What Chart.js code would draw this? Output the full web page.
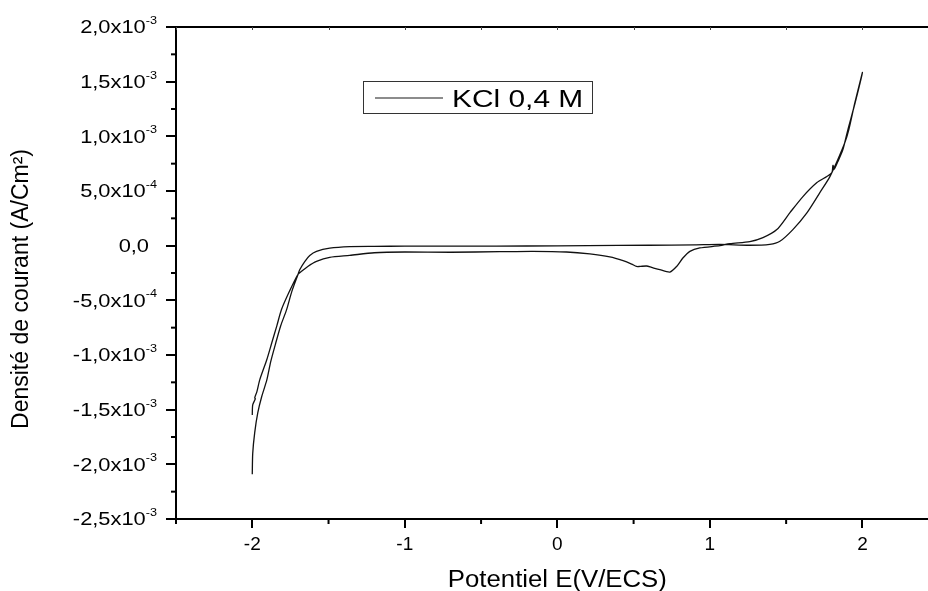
<!DOCTYPE html>
<html>
<head>
<meta charset="utf-8">
<script src="https://cdn.jsdelivr.net/npm/chart.js@4.4.1/dist/chart.umd.min.js"></script>
<style>
  html, body { margin: 0; padding: 0; background: #fff; overflow: hidden; }
  canvas { display: block; }
</style>
</head>
<body>
<canvas id="c" width="928" height="591"></canvas>
<script>
// ---- Data ----
// Anodic sweep: from -2 V up to +2 V
const forwardE = [-2.00, -1.997, -1.984, -1.964, -1.938, -1.905, -1.879, -1.846, -1.813, -1.776,
  -1.741, -1.702, -1.689, -1.656, -1.623, -1.579, -1.492, -1.361, -1.2, -1.0,
  -0.6, -0.2, 0.2, 0.6, 0.9, 1.066, 1.26, 1.393, 1.459, 1.544,
  1.636, 1.721, 1.787, 1.839, 1.885, 1.911, 1.951, 2.0];
const forwardI = [-2.09e-3, -1.90e-3, -1.71e-3, -1.53e-3, -1.38e-3, -1.23e-3, -1.06e-3, -0.89e-3, -0.73e-3, -0.59e-3,
  -0.42e-3, -0.27e-3, -0.22e-3, -0.145e-3, -0.09e-3, -0.052e-3, -0.022e-3, -0.008e-3, -0.006e-3, -0.005e-3,
  -0.004e-3, -0.003e-3, 0.0, 0.004e-3, 0.008e-3, 0.012e-3, 0.004e-3, 0.012e-3, 0.04e-3, 0.147e-3,
  0.30e-3, 0.485e-3, 0.632e-3, 0.788e-3, 0.943e-3, 1.062e-3, 1.31e-3, 1.584e-3];
// Cathodic sweep: from +2 V back to -2 V
const reverseE = [1.951, 1.905, 1.872, 1.839, 1.815, 1.807, 1.800, 1.767, 1.702, 1.610,
  1.525, 1.439, 1.348, 1.262, 1.131, 1.066, 0.934, 0.869, 0.823, 0.782,
  0.738, 0.672, 0.618, 0.585, 0.541, 0.519, 0.487, 0.431, 0.344, 0.213,
  0.060, -0.161, -0.377, -0.7, -1.0, -1.2, -1.361, -1.492, -1.579, -1.636,
  -1.677, -1.702, -1.757, -1.809, -1.839, -1.872, -1.905, -1.951, -1.970, -1.984,
  -1.980, -1.997, -2.0];
const reverseI = [1.30e-3, 1.062e-3, 0.879e-3, 0.769e-3, 0.70e-3, 0.735e-3, 0.668e-3, 0.632e-3, 0.577e-3, 0.449e-3,
  0.302e-3, 0.147e-3, 0.073e-3, 0.037e-3, 0.018e-3, 0.0, -0.021e-3, -0.052e-3, -0.113e-3, -0.190e-3,
  -0.241e-3, -0.220e-3, -0.199e-3, -0.186e-3, -0.190e-3, -0.190e-3, -0.168e-3, -0.137e-3, -0.103e-3, -0.076e-3,
  -0.058e-3, -0.052e-3, -0.055e-3, -0.060e-3, -0.058e-3, -0.065e-3, -0.089e-3, -0.107e-3, -0.144e-3, -0.190e-3,
  -0.235e-3, -0.266e-3, -0.42e-3, -0.586e-3, -0.733e-3, -0.888e-3, -1.044e-3, -1.227e-3, -1.337e-3, -1.392e-3,
  -1.40e-3, -1.456e-3, -1.548e-3];

const seriesLabel = 'KCl 0,4 M';

// ---- Ticks ----
const xTickValues = [-2, -1, 0, 1, 2];
const xTickLabels = ['-2', '-1', '0', '1', '2'];
const xMinorTicks = [-2.5, -1.5, -0.5, 0.5, 1.5];
const yTickValues = [2.0e-3, 1.5e-3, 1.0e-3, 5.0e-4, 0, -5.0e-4, -1.0e-3, -1.5e-3, -2.0e-3, -2.5e-3];
const yTickMantissa = ['2,0', '1,5', '1,0', '5,0', '0,0', '-5,0', '-1,0', '-1,5', '-2,0', '-2,5'];
const yTickExponent = ['-3', '-3', '-3', '-4', '', '-4', '-3', '-3', '-3', '-3'];
const yMinorTicks = [1.75e-3, 1.25e-3, 0.75e-3, 0.25e-3, -0.25e-3, -0.75e-3, -1.25e-3, -1.75e-3, -2.25e-3];

const xTitle = 'Potentiel E(V/ECS)';
const yTitle = 'Densité de courant (A/Cm²)';

const FONT = "'Liberation Sans', Arial, Helvetica, sans-serif";

const points = forwardE.map((e, i) => ({ x: e, y: forwardI[i] }))
  .concat(reverseE.map((e, i) => ({ x: e, y: reverseI[i] })));

function sText(ctx, str, x, y, size, sx, align, baseline) {
  ctx.save();
  ctx.font = size + 'px ' + FONT;
  ctx.translate(x, y);
  ctx.scale(sx, 1);
  ctx.textAlign = align;
  ctx.textBaseline = baseline;
  ctx.fillText(str, 0, 0);
  ctx.restore();
}
function sWidth(ctx, str, size, sx) {
  ctx.save();
  ctx.font = size + 'px ' + FONT;
  const w = ctx.measureText(str).width * sx;
  ctx.restore();
  return w;
}

const overlay = {
  id: 'overlay',
  afterDraw(chart) {
    const { ctx, chartArea: ca, scales: { x, y } } = chart;
    ctx.save();
    ctx.strokeStyle = '#000';
    ctx.fillStyle = '#000';
    const line = (x1, y1, x2, y2) => { ctx.beginPath(); ctx.moveTo(x1, y1); ctx.lineTo(x2, y2); ctx.stroke(); };
    // top frame line
    ctx.lineWidth = 2;
    line(ca.left - 1, ca.top, ca.right, ca.top);
    // minor ticks
    xMinorTicks.forEach(v => { const p = x.getPixelForValue(v); line(p, ca.bottom, p, ca.bottom + 5); });
    yMinorTicks.forEach(v => { const p = y.getPixelForValue(v); line(ca.left - 5, p, ca.left, p); });
    // small inner ticks on top frame
    ctx.lineWidth = 1;
    ctx.strokeStyle = '#444';
    xTickValues.concat(xMinorTicks).forEach(v => {
      const p = Math.round(x.getPixelForValue(v)) + 0.5;
      line(p, ca.top, p, ca.top + 3);
    });
    // y tick labels with superscripts
    ctx.fillStyle = '#000';
    const rightEdge = ca.left - 19;
    yTickValues.forEach((v, i) => {
      const p = y.getPixelForValue(v);
      const exp = yTickExponent[i];
      if (exp) {
        const supW = sWidth(ctx, exp, 11, 1.15);
        sText(ctx, exp, rightEdge, p - 6, 11, 1.15, 'right', 'middle');
        sText(ctx, yTickMantissa[i] + 'x10', rightEdge - supW, p + 1, 19, 1.15, 'right', 'middle');
      } else {
        sText(ctx, yTickMantissa[i], rightEdge - 8, p + 1, 19, 1.15, 'right', 'middle');
      }
    });
    // axis titles
    sText(ctx, xTitle, x.getPixelForValue(0), 587, 23, 1.12, 'center', 'alphabetic');
    ctx.save();
    ctx.translate(22, (ca.top + ca.bottom) / 2 + 16);
    ctx.rotate(-Math.PI / 2);
    ctx.font = '23px ' + FONT;
    ctx.textAlign = 'center';
    ctx.textBaseline = 'middle';
    ctx.fillText(yTitle, 0, 0);
    ctx.restore();
    // legend box
    ctx.lineWidth = 1;
    ctx.strokeStyle = '#333';
    ctx.strokeRect(363.5, 81.5, 229, 32);
    ctx.strokeStyle = '#666';
    ctx.lineWidth = 1.5;
    line(375, 98, 443, 98);
    sText(ctx, seriesLabel, 452, 106.5, 23, 1.3, 'left', 'alphabetic');
    ctx.restore();
  }
};

new Chart(document.getElementById('c'), {
  type: 'line',
  data: {
    datasets: [{
      label: seriesLabel,
      data: points,
      borderColor: '#111',
      borderWidth: 1.3,
      pointRadius: 0,
      fill: false,
      tension: 0.25
    }]
  },
  options: {
    responsive: false,
    maintainAspectRatio: false,
    devicePixelRatio: 1,
    animation: false,
    layout: { padding: { top: 27, left: 0, right: 0, bottom: 0 } },
    plugins: { legend: { display: false }, tooltip: { enabled: false } },
    scales: {
      x: {
        type: 'linear',
        min: -2.5,
        max: 2.43,
        afterBuildTicks: (s) => { s.ticks = xTickValues.map(v => ({ value: v })); },
        afterFit: (s) => { s.height = 72; },
        ticks: {
          color: '#000',
          font: { family: FONT, size: 19 },
          padding: 5,
          maxRotation: 0,
          callback: (v) => { const i = xTickValues.indexOf(v); return i >= 0 ? xTickLabels[i] : ''; }
        },
        grid: { display: true, drawOnChartArea: false, drawTicks: true, tickLength: 9, lineWidth: 2, color: '#000' },
        border: { display: true, width: 2, color: '#000' }
      },
      y: {
        type: 'linear',
        min: -2.5e-3,
        max: 2.0e-3,
        afterBuildTicks: (s) => { s.ticks = yTickValues.map(v => ({ value: v })); },
        afterFit: (s) => { s.width = 176; },
        ticks: { display: false },
        grid: { display: true, drawOnChartArea: false, drawTicks: true, tickLength: 10, lineWidth: 2, color: '#000' },
        border: { display: true, width: 2, color: '#000' }
      }
    }
  },
  plugins: [overlay]
});
</script>
</body>
</html>
